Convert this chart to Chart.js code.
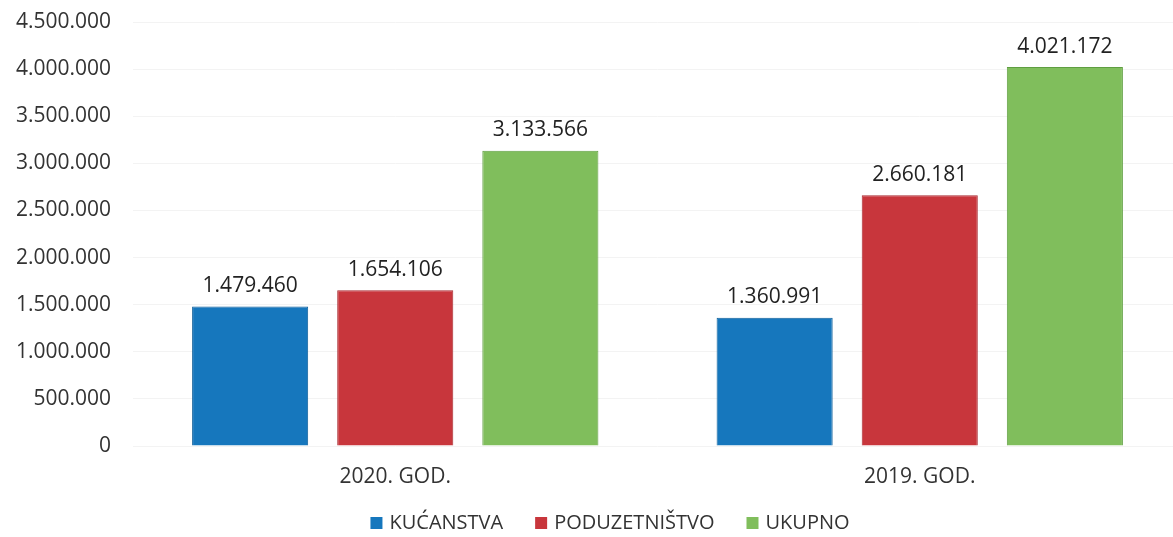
<!DOCTYPE html>
<html><head><meta charset="utf-8">
<script src="https://cdn.jsdelivr.net/npm/chart.js@4"></script>
<style>html,body{margin:0;padding:0;background:#fff;overflow:hidden}#wrap{width:1182px;height:537px;position:relative}</style>
</head><body><div id="wrap"><canvas id="c"></canvas></div>
<script>
const categories = ['2020. GOD.', '2019. GOD.'];
const seriesNames = ['KUĆANSTVA', 'PODUZETNIŠTVO', 'UKUPNO'];
const kucanstva = [1479460, 1360991];
const poduzetnistvo = [1654106, 2660181];
const ukupno = [3133566, 4021172];
const yTicks = [0, 500000, 1000000, 1500000, 2000000, 2500000, 3000000, 3500000, 4000000, 4500000];
const colors = ['#1677bd', '#c8363c', '#80be5c'];
const borders = ['#0f5f9a', '#a82a30', '#5f9e40'];

const fmt = v => String(v).replace(/\B(?=(\d{3})+(?!\d))/g, '.');
const FONT = '"Open Sans", sans-serif';

const valueLabels = {
  id: 'valueLabels',
  afterDatasetsDraw(chart) {
    const ctx = chart.ctx;
    ctx.save();
    ctx.font = '21px ' + FONT;
    ctx.fillStyle = '#222';
    ctx.textAlign = 'center';
    ctx.textBaseline = 'bottom';
    chart.data.datasets.forEach((ds, i) => {
      chart.getDatasetMeta(i).data.forEach((bar, j) => {
        ctx.fillText(fmt(ds.data[j]), bar.x, bar.y - 10);
      });
    });
    ctx.restore();
  }
};

const customLegend = {
  id: 'customLegend',
  afterDraw(chart) {
    const ctx = chart.ctx;
    ctx.save();
    ctx.font = '20px ' + FONT;
    ctx.textBaseline = 'middle';
    const box = 12, gapBox = 7, gapItem = 32;
    const items = chart.data.datasets.map(ds => ({ text: ds.label, color: ds.backgroundColor, w: ctx.measureText(ds.label).width }));
    const total = items.reduce((s, it) => s + box + gapBox + it.w, 0) + gapItem * (items.length - 1);
    let x = 610 - total / 2;
    const y = 523;
    items.forEach(it => {
      ctx.fillStyle = it.color;
      ctx.fillRect(x, y - box / 2, box, box);
      x += box + gapBox;
      ctx.fillStyle = '#333';
      ctx.textAlign = 'left';
      ctx.fillText(it.text, x, y);
      x += it.w + gapItem;
    });
    ctx.restore();
  }
};

new Chart(document.getElementById('c'), {
  type: 'bar',
  data: {
    labels: categories,
    datasets: [kucanstva, poduzetnistvo, ukupno].map((d, i) => ({
      label: seriesNames[i], data: d, backgroundColor: colors[i],
      borderColor: borders[i], borderWidth: 1,
      categoryPercentage: 0.83, barPercentage: 0.8
    }))
  },
  options: {
    responsive: true, maintainAspectRatio: false, animation: false,
    layout: { padding: { top: 22, right: 0, bottom: 46, left: 0 } },
    plugins: {
      legend: { display: false },
      tooltip: { enabled: false }
    },
    scales: {
      x: {
        afterFit(s) { s.height = 45; s.paddingLeft = 0; s.paddingRight = 0; },
        grid: { display: false }, border: { display: false },
        ticks: { font: { family: FONT, size: 21 }, color: '#333', padding: 10 }
      },
      y: {
        min: 0, max: 4500000,
        afterFit(s) { s.width = 133; s.paddingTop = 0; s.paddingBottom = 0; },
        afterBuildTicks(s) { s.ticks = yTicks.map(v => ({ value: v })); },
        grid: { color: '#f3f3f3', drawTicks: false }, border: { display: false },
        ticks: { font: { family: FONT, size: 21 }, color: '#333', padding: 22, callback: v => fmt(v) }
      }
    }
  },
  plugins: [valueLabels, customLegend]
});
</script></body></html>
